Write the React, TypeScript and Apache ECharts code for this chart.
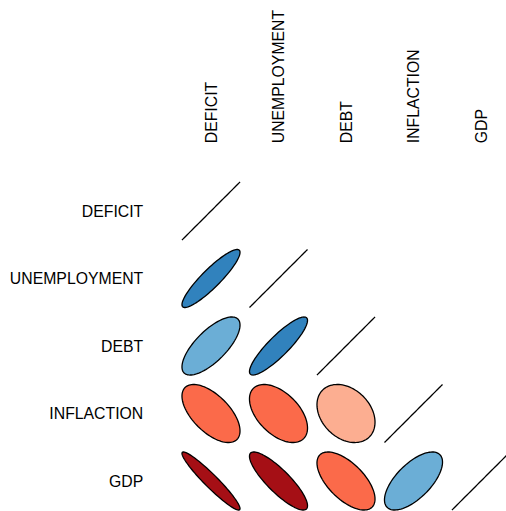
import React, { useEffect, useRef } from "react";
import * as echarts from "echarts";

const variables = ["DEFICIT", "UNEMPLOYMENT", "DEBT", "INFLACTION", "GDP"];

// lower-triangle correlations (row i, columns 0..i)
const corrDeficit = [1];
const corrUnemployment = [0.9, 1];
const corrDebt = [0.72, 0.88, 1];
const corrInflation = [-0.6, -0.5, -0.3, 1];
const corrGdp = [-0.95, -0.85, -0.62, 0.65, 1];

const corrRows = [corrDeficit, corrUnemployment, corrDebt, corrInflation, corrGdp];

const ELL_T = 0.43;

function cellColor(r: number): string {
  if (r >= 0.999) return "none";
  if (r >= 0.8) return "#3182BD";
  if (r >= 0.4) return "#6BAED6";
  if (r > 0) return "#C6DBEF";
  if (r <= -0.8) return "#A50F15";
  if (r <= -0.45) return "#FB6A4A";
  return "#FCAE91";
}

export default function App() {
  const ref = useRef<HTMLDivElement>(null);
  useEffect(() => {
    if (!ref.current) return;
    const chart = echarts.init(ref.current, null, { renderer: "svg" });
    const data: number[][] = [];
    corrRows.forEach((row, i) => {
      row.forEach((r, j) => {
        data.push([j + 1, i + 1, r]);
      });
    });
    const font = "'Liberation Sans', Arial, Helvetica, sans-serif";
    const cell = 67.5;
    const left = 211 - cell / 2;
    const top = 211 - cell / 2;
    chart.setOption({
      animation: false,
      backgroundColor: "#ffffff",
      grid: {
        left,
        top,
        width: cell * 5,
        height: cell * 5,
        containLabel: false,
        outerBoundsMode: "none",
      },
      xAxis: [
        { type: "value", min: 0.5, max: 5.5, show: false },
        {
          type: "category",
          data: variables,
          position: "top",
          boundaryGap: true,
          axisLine: { show: false },
          axisTick: { show: false },
          splitLine: { show: false },
          axisLabel: { rotate: -90, fontSize: 15.8, color: "#000", fontFamily: font, margin: 34, interval: 0 },
        },
      ],
      yAxis: [
        { type: "value", min: 0.5, max: 5.5, inverse: true, show: false },
        {
          type: "category",
          data: variables,
          inverse: true,
          position: "left",
          boundaryGap: true,
          axisLine: { show: false },
          axisTick: { show: false },
          splitLine: { show: false },
          axisLabel: { fontSize: 15.8, color: "#000", fontFamily: font, margin: 34, interval: 0 },
        },
      ],
      series: [
        {
          type: "custom",
          xAxisIndex: 0,
          yAxisIndex: 0,
          data,
          clip: false,
          renderItem: (params: any, api: any) => {
            const cx = api.value(0);
            const cy = api.value(1);
            const r = api.value(2);
            const d = Math.acos(Math.max(-1, Math.min(1, r)));
            const pts: number[][] = [];
            const n = 100;
            for (let k = 0; k < n; k++) {
              const a = (2 * Math.PI * k) / n;
              const x = cx + ELL_T * Math.cos(a + d / 2);
              const y = cy - ELL_T * Math.cos(a - d / 2);
              pts.push(api.coord([x, y]));
            }
            const fill = cellColor(r);
            return {
              type: "polygon",
              shape: { points: pts },
              style: { fill, stroke: "#000", lineWidth: 1.3 },
            };
          },
        },
      ],
    });
    return () => chart.dispose();
  }, []);
  return (
    <div
      ref={ref}
      style={{ position: "fixed", left: 0, top: 0, width: 506, height: 511, background: "#fff" }}
    />
  );
}
